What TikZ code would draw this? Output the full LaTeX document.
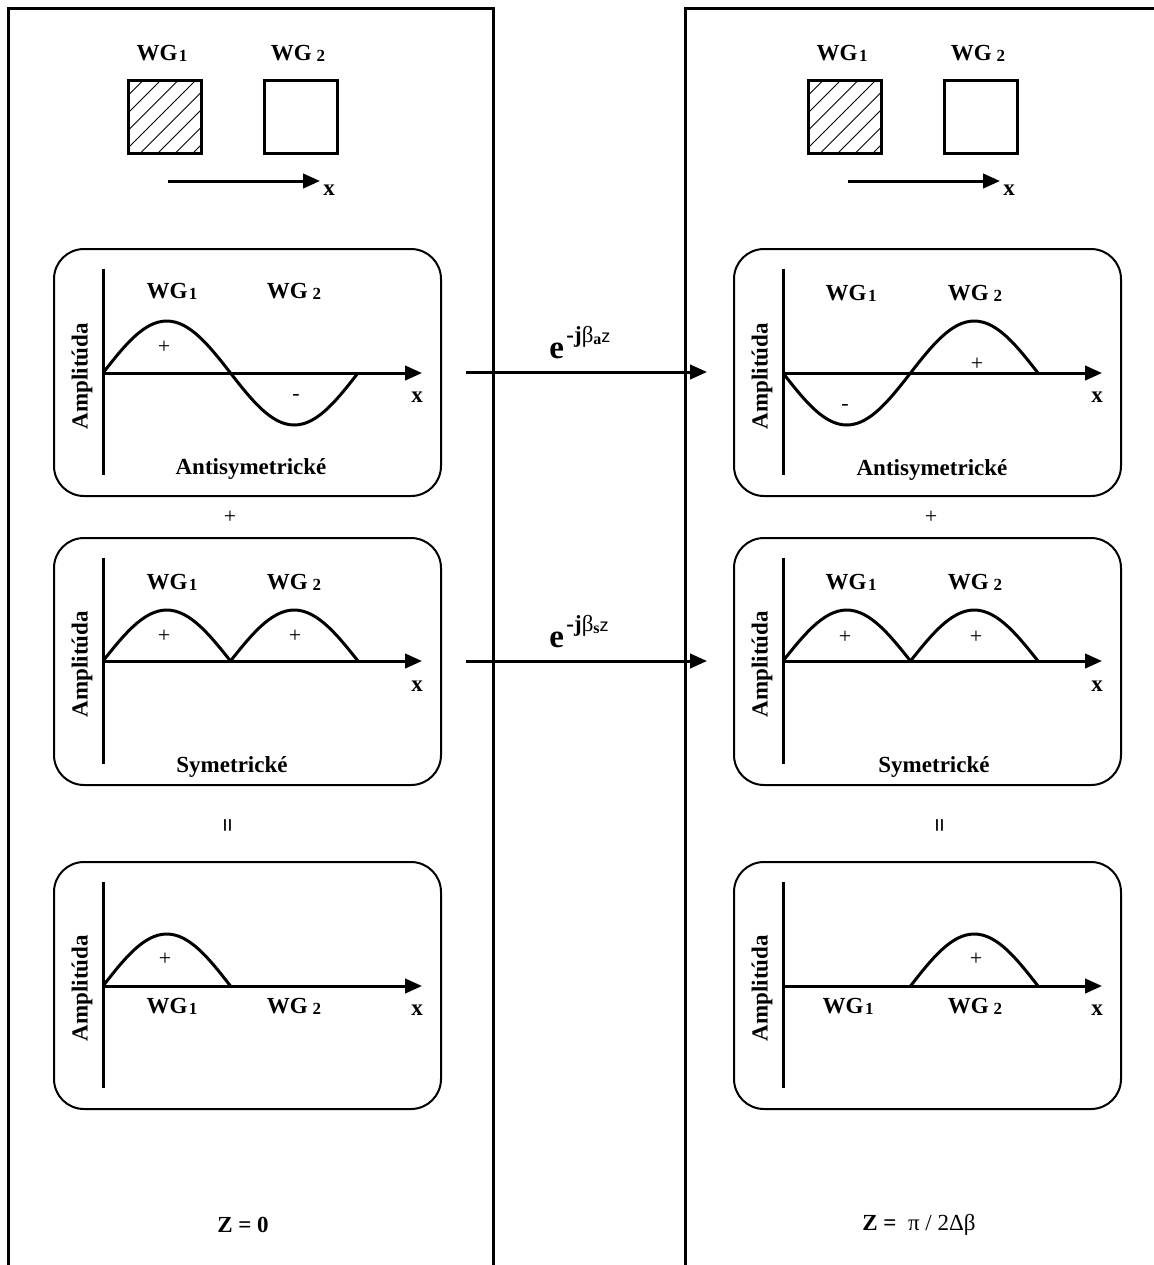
\documentclass[tikz,border=0pt]{standalone}
\usepackage{fontspec}
\setmainfont{Liberation Serif}
\newfontfamily\sansz{Liberation Sans}
\usetikzlibrary{arrows.meta}
\newcommand\WGa{WG\kern0.8pt\raisebox{-0.5pt}{\fontsize{8.5}{9}\selectfont 1}}
\newcommand\WGb{WG\kern2.5pt\raisebox{-0.5pt}{\fontsize{8.5}{9}\selectfont 2}}
\begin{document}
\begin{tikzpicture}[x=0.5pt,y=-0.5pt,
  frame/.style={line width=1.5pt},
  subpanel/.style={draw, line width=1pt, rounded corners=15pt, minimum width=193.5pt, minimum height=123.5pt, anchor=north west, inner sep=0pt},
  sq/.style={draw, line width=1.5pt, minimum size=36.5pt, anchor=north west, inner sep=0pt},
  hatch/.style={line width=0.5pt},
  axis/.style={line width=1.5pt},
  arr/.style={line width=1.5pt, -{Triangle[length=8.5pt,width=7.2pt]}},
  wave/.style={line width=1.5pt, line join=round},
  lab/.style={font=\fontsize{11.5}{13}\selectfont\bfseries, inner sep=0pt},
  sign/.style={font=\fontsize{11}{13}\selectfont, inner sep=0pt},
  eqs/.style={font=\fontsize{12.5}{13}\selectfont\bfseries, inner sep=0pt, rotate=90},
  ]
\useasboundingbox (0,0) rectangle (1154,1265);
\clip (0,0) rectangle (1154,1265);

% outer frames
\draw[frame] (8.5,1270) -- (8.5,8.5) -- (493,8.5) -- (493,1270);
\draw[frame] (685,1270) -- (685,8.5) -- (1160,8.5);

% ---------- top waveguides (left / right) ----------
\foreach \dx/\s in {0/L,680/R}{
  \begin{scope}[shift={(\dx,0)}]
    \node[sq] (\s sq1) at (127,79) {};
    \begin{scope}
      \clip (127,79) rectangle (200,152);
      \foreach \k in {1,...,8}
        \draw[hatch] ({127+17.5*\k},79) -- ++(-73,73);
    \end{scope}
    \node[sq] (\s sq2) at (263,79) {};
    \node[lab] (\s tw1) at (162,53) {\WGa};
    \node[lab] (\s tw2) at (298,53) {\WGb};
    \coordinate (\s ta) at (168,181);
    \coordinate (\s tb) at (320,181);
    \draw[arr] (\s ta) -- (\s tb);
    \node[lab] (\s tx) at (329,190) {x};
  \end{scope}
}

% ---------- left panel 1 : antisymmetric ----------
\node[subpanel] (LP1) at (53,248) {};
\begin{scope}[shift={(53,248)}]
  \draw[axis] (50,21) -- (50,227);
  \coordinate (LP1o) at (50,125); \coordinate (LP1e) at (369,125);
  \draw[arr] (LP1o) -- (LP1e);
  \draw[wave] plot[domain=0:255,samples=61,smooth] ({50+\x},{125-52*sin(\x/127.5*180)});
  \node[lab] (LP1w1) at (119,43) {\WGa};
  \node[lab] (LP1w2) at (241,43) {\WGb};
  \node[sign] (LP1p) at (111,99) {+};
  \node[sign] (LP1m) at (243,149) {-};
  \node[lab] (LP1x) at (364,149) {x};
  \node[lab, rotate=90] (LP1a) at (29,128) {Amplitúda};
  \node[lab] (LP1t) at (198,221) {Antisymetrické};
\end{scope}

% ---------- left panel 2 : symmetric ----------
\node[subpanel] (LP2) at (53,537) {};
\begin{scope}[shift={(53,537)}]
  \draw[axis] (50,21) -- (50,227);
  \coordinate (LP2o) at (50,124); \coordinate (LP2e) at (369,124);
  \draw[arr] (LP2o) -- (LP2e);
  \draw[wave] plot[domain=0:255,samples=61] ({50+\x},{124-51*abs(sin(\x/127.5*180))});
  \node[lab] (LP2w1) at (119,45) {\WGa};
  \node[lab] (LP2w2) at (241,45) {\WGb};
  \node[sign] (LP2p1) at (111,99) {+};
  \node[sign] (LP2p2) at (242,99) {+};
  \node[lab] (LP2x) at (364,149) {x};
  \node[lab, rotate=90] (LP2a) at (29,127) {Amplitúda};
  \node[lab] (LP2t) at (179,230) {Symetrické};
\end{scope}

% ---------- left panel 3 : sum ----------
\node[subpanel] (LP3) at (53,861) {};
\begin{scope}[shift={(53,861)}]
  \draw[axis] (50,21) -- (50,227);
  \coordinate (LP3o) at (50,125); \coordinate (LP3e) at (369,125);
  \draw[arr] (LP3o) -- (LP3e);
  \draw[wave] plot[domain=0:127.5,samples=31,smooth] ({50+\x},{125-52*sin(\x/127.5*180)});
  \node[sign] (LP3p) at (112,98) {+};
  \node[lab] (LP3w1) at (119,145) {\WGa};
  \node[lab] (LP3w2) at (241,145) {\WGb};
  \node[lab] (LP3x) at (364,149) {x};
  \node[lab, rotate=90] (LP3a) at (29,127) {Amplitúda};
\end{scope}

% ---------- right panel 1 : antisymmetric (shifted) ----------
\node[subpanel] (RP1) at (733,248) {};
\begin{scope}[shift={(733,248)}]
  \draw[axis] (50,21) -- (50,227);
  \coordinate (RP1o) at (50,125); \coordinate (RP1e) at (369,125);
  \draw[arr] (RP1o) -- (RP1e);
  \draw[wave] plot[domain=0:255,samples=61,smooth] ({50+\x},{125+52*sin(\x/127.5*180)});
  \node[lab] (RP1w1) at (118,45) {\WGa};
  \node[lab] (RP1w2) at (242,45) {\WGb};
  \node[sign] (RP1m) at (112,159) {-};
  \node[sign] (RP1p) at (244,116) {+};
  \node[lab] (RP1x) at (364,149) {x};
  \node[lab, rotate=90] (RP1a) at (29,128) {Amplitúda};
  \node[lab] (RP1t) at (199,222) {Antisymetrické};
\end{scope}

% ---------- right panel 2 : symmetric ----------
\node[subpanel] (RP2) at (733,537) {};
\begin{scope}[shift={(733,537)}]
  \draw[axis] (50,21) -- (50,227);
  \coordinate (RP2o) at (50,124); \coordinate (RP2e) at (369,124);
  \draw[arr] (RP2o) -- (RP2e);
  \draw[wave] plot[domain=0:255,samples=61] ({50+\x},{124-51*abs(sin(\x/127.5*180))});
  \node[lab] (RP2w1) at (118,45) {\WGa};
  \node[lab] (RP2w2) at (242,45) {\WGb};
  \node[sign] (RP2p1) at (112,100) {+};
  \node[sign] (RP2p2) at (243,100) {+};
  \node[lab] (RP2x) at (364,149) {x};
  \node[lab, rotate=90] (RP2a) at (29,127) {Amplitúda};
  \node[lab] (RP2t) at (201,230) {Symetrické};
\end{scope}

% ---------- right panel 3 : sum ----------
\node[subpanel] (RP3) at (733,861) {};
\begin{scope}[shift={(733,861)}]
  \draw[axis] (50,21) -- (50,227);
  \coordinate (RP3o) at (50,125); \coordinate (RP3e) at (369,125);
  \draw[arr] (RP3o) -- (RP3e);
  \draw[wave] plot[domain=127.5:255,samples=31,smooth] ({50+\x},{125+52*sin(\x/127.5*180)});
  \node[sign] (RP3p) at (243,98) {+};
  \node[lab] (RP3w1) at (115,145) {\WGa};
  \node[lab] (RP3w2) at (242,145) {\WGb};
  \node[lab] (RP3x) at (364,149) {x};
  \node[lab, rotate=90] (RP3a) at (29,127) {Amplitúda};
\end{scope}

% ---------- plus / equals between panels ----------
\node[sign] (Lplus) at (230,517) {+};
\node[eqs] (Leq) at (230,825) {=};
\node[sign] (Rplus) at (931,517) {+};
\node[eqs] (Req) at (942,825) {=};

% ---------- propagation arrows ----------
\coordinate (a1s) at (466,372); \coordinate (a1e) at (707,372);
\draw[arr] (a1s) -- (a1e);
\node[inner sep=0pt, anchor=base west] (ea) at (549,358)
  {{\fontsize{16.5}{17}\selectfont\bfseries e}\kern1.2pt\raisebox{8pt}{\fontsize{11.5}{12}\selectfont\bfseries -j\mdseries β\raisebox{-1.2pt}{\fontsize{8}{8}\selectfont\bfseries a}{\sansz\fontsize{9}{9}\selectfont z}}};
\coordinate (a2s) at (466,661); \coordinate (a2e) at (707,661);
\draw[arr] (a2s) -- (a2e);
\node[inner sep=0pt, anchor=base west] (es) at (549,647)
  {{\fontsize{16.5}{17}\selectfont\bfseries e}\kern1.2pt\raisebox{8pt}{\fontsize{11.5}{12}\selectfont\bfseries -j\mdseries β\raisebox{-1.2pt}{\fontsize{8}{8}\selectfont\bfseries s}{\sansz\fontsize{9}{9}\selectfont z}}};

% ---------- bottom labels ----------
\node[lab] (z0) at (243,1225) {Z = 0};
\node[inner sep=0pt, anchor=west] (z1) at (862,1225)
  {\fontsize{11.5}{13}\selectfont\textbf{Z =} \ π / 2Δβ};
\end{tikzpicture}
\end{document}
